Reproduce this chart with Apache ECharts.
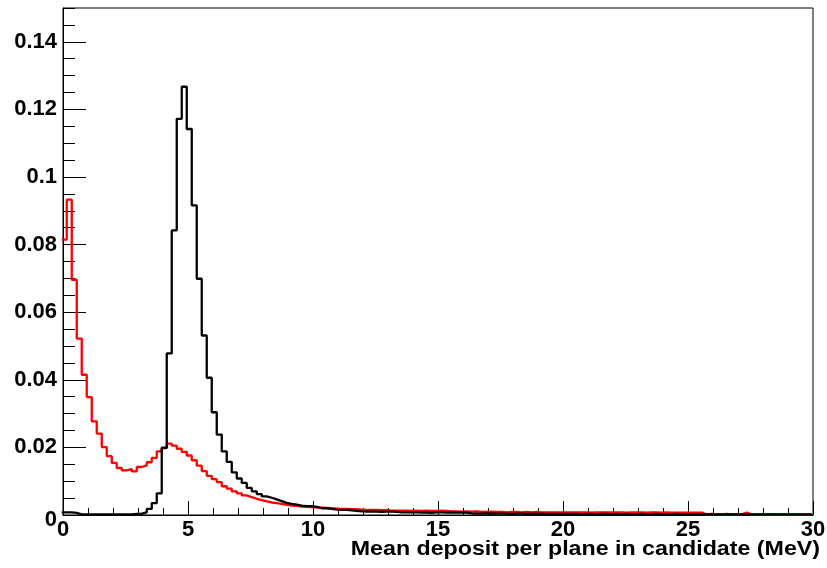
<!DOCTYPE html>
<html>
<head>
<meta charset="utf-8">
<script src="https://cdn.jsdelivr.net/npm/echarts@6/dist/echarts.min.js"></script>
<style>
  html, body { margin: 0; padding: 0; background: #ffffff; }
  #chart { width: 827px; height: 568px; }
</style>
</head>
<body>
<div id="chart"></div>
<script>
// Histogram binning: 150 bins of 0.2 MeV, first lower edge at -0.05 MeV
const BIN_WIDTH = 0.2;
const FIRST_EDGE = -0.05;

// Normalised bin contents, red sample
const redValues = [
  0.0815, 0.0933, 0.0696, 0.0522, 0.0415, 0.0349, 0.0277, 0.0241, 0.0201, 0.0174,
  0.0154, 0.0139, 0.0132, 0.0136, 0.0129, 0.0142, 0.0147, 0.0156, 0.0169, 0.0188,
  0.0198, 0.0211, 0.0205, 0.0196, 0.0187, 0.0176, 0.0162, 0.0146, 0.0130, 0.0116,
  0.0106, 0.0097, 0.0085, 0.0078, 0.0070, 0.0064, 0.0058, 0.0053, 0.0048, 0.0044,
  0.0040, 0.0037, 0.0035, 0.0033, 0.0030, 0.0028, 0.0027, 0.0025, 0.0024, 0.0023,
  0.0023, 0.0022, 0.0021, 0.0020, 0.0019, 0.0018, 0.0018, 0.0017, 0.0017, 0.0016,
  0.0015, 0.0015, 0.0015, 0.0014, 0.0014, 0.0013, 0.0013, 0.0013, 0.0013, 0.0012,
  0.0013, 0.0012, 0.0013, 0.0012, 0.0012, 0.0013, 0.0012, 0.0011, 0.0011, 0.0010,
  0.0011, 0.0010, 0.0011, 0.0009, 0.0009, 0.0010, 0.0009, 0.0009, 0.0008, 0.0009,
  0.0009, 0.0008, 0.0009, 0.0008, 0.0009, 0.0008, 0.0008, 0.0008, 0.0008, 0.0008,
  0.0008, 0.0008, 0.0008, 0.0008, 0.0008, 0.0007, 0.0008, 0.0008, 0.0008, 0.0008,
  0.0008, 0.0008, 0.0007, 0.0008, 0.0008, 0.0008, 0.0007, 0.0008, 0.0008, 0.0007,
  0.0008, 0.0007, 0.0007, 0.0007, 0.0007, 0.0007, 0.0007, 0.0007, 0.0002, 0.0003,
  0.0002, 0.0002, 0.0003, 0.0002, 0.0002, 0.0002, 0.0007, 0.0002, 0.0001, 0.0002,
  0.0001, 0.0002, 0.0001, 0.0001, 0.0002, 0.0001, 0.0001, 0.0001, 0.0001, 0.0001
];

// Normalised bin contents, black sample
const blackValues = [
  0.0008, 0.0008, 0.0006, 0.0002, 0.0002, 0.0002, 0.0002, 0.0002, 0.0002, 0.0002,
  0.0002, 0.0002, 0.0002, 0.0002, 0.0003, 0.0004, 0.0008, 0.0018, 0.0035, 0.0064,
  0.0199, 0.0478, 0.0842, 0.1172, 0.1267, 0.1142, 0.0916, 0.0699, 0.0531, 0.0406,
  0.0304, 0.0238, 0.0188, 0.0157, 0.0126, 0.0108, 0.0095, 0.0080, 0.0070, 0.0062,
  0.0055, 0.0051, 0.0046, 0.0041, 0.0036, 0.0033, 0.0031, 0.0028, 0.0026, 0.0026,
  0.0024, 0.0020, 0.0020, 0.0018, 0.0016, 0.0015, 0.0015, 0.0014, 0.0012, 0.0011,
  0.0010, 0.0010, 0.0010, 0.0009, 0.0010, 0.0010, 0.0009, 0.0008, 0.0008, 0.0008,
  0.0008, 0.0007, 0.0008, 0.0006, 0.0008, 0.0008, 0.0007, 0.0008, 0.0007, 0.0007,
  0.0007, 0.0005, 0.0004, 0.0004, 0.0005, 0.0004, 0.0004, 0.0004, 0.0004, 0.0003,
  0.0004, 0.0004, 0.0003, 0.0004, 0.0003, 0.0004, 0.0003, 0.0003, 0.0003, 0.0003,
  0.0003, 0.0003, 0.0003, 0.0002, 0.0003, 0.0003, 0.0002, 0.0003, 0.0003, 0.0002,
  0.0003, 0.0002, 0.0003, 0.0002, 0.0002, 0.0003, 0.0002, 0.0002, 0.0003, 0.0002,
  0.0002, 0.0002, 0.0003, 0.0002, 0.0002, 0.0002, 0.0002, 0.0002, 0.0002, 0.0002,
  0.0002, 0.0002, 0.0002, 0.0002, 0.0002, 0.0002, 0.0002, 0.0002, 0.0002, 0.0002,
  0.0002, 0.0002, 0.0002, 0.0002, 0.0002, 0.0002, 0.0002, 0.0002, 0.0002, 0.0002
];

// Axis ranges and tick spacing
const X_MIN = 0, X_MAX = 30, X_MAJOR = 5, X_MINOR_SPLIT = 5;
const Y_MIN = 0, Y_MAX = 0.15, Y_MAJOR = 0.02, Y_MINOR = 0.005;
const X_TITLE = 'Mean deposit per plane in candidate (MeV)';

const FONT = '"Liberation Sans", Arial, Helvetica, sans-serif';

// Turn bin contents into step points at each bin's lower edge,
// closing the last bin at its upper edge.
function histogramSteps(values) {
  const pts = values.map((v, i) => [FIRST_EDGE + i * BIN_WIDTH, v]);
  pts.push([FIRST_EDGE + values.length * BIN_WIDTH, values[values.length - 1]]);
  return pts;
}

const chart = echarts.init(document.getElementById('chart'), null, { renderer: 'canvas' });

const labelStyle = {
  color: '#000',
  fontFamily: FONT,
  fontWeight: 'bold',
  fontSize: 22
};

chart.setOption({
  animation: false,
  backgroundColor: '#ffffff',
  grid: {
    left: 63, right: 14, top: 8, bottom: 53,
    outerBoundsMode: 'none',
    containLabel: false,
    show: true, borderColor: '#000', borderWidth: 1, backgroundColor: 'transparent'
  },
  // axis title, right-aligned under the x axis, in a wide bold face
  graphic: [
    {
      type: 'text',
      x: 820,
      y: 539,
      scaleX: 1.16,
      style: {
        text: X_TITLE,
        font: 'bold 20px ' + FONT,
        fill: '#000',
        align: 'right',
        verticalAlign: 'top'
      }
    }
  ],
  xAxis: {
    type: 'value',
    min: X_MIN, max: X_MAX, interval: X_MAJOR,
    axisLine: { show: true, onZero: false, lineStyle: { color: '#000', width: 1 } },
    axisTick: { show: true, inside: true, length: 14, lineStyle: { color: '#000', width: 1 } },
    minorTick: { show: true, splitNumber: X_MINOR_SPLIT, length: 7, lineStyle: { color: '#000', width: 1 } },
    splitLine: { show: false },
    axisLabel: Object.assign({ margin: 4 }, labelStyle)
  },
  yAxis: [
    {
      type: 'value',
      min: Y_MIN, max: Y_MAX, interval: Y_MAJOR,
      axisLine: { show: true, lineStyle: { color: '#000', width: 1 } },
      axisTick: { show: true, inside: true, length: 23, lineStyle: { color: '#000', width: 1 } },
      splitLine: { show: false },
      axisLabel: Object.assign({
        margin: 6,
        showMaxLabel: false,
        formatter: v => (v === 0 ? '{z|0}' : String(+v.toFixed(3))),
        rich: { z: { padding: [10, 0, 0, 0], fontFamily: FONT, fontWeight: 'bold', fontSize: 22, color: '#000' } }
      }, labelStyle)
    },
    {
      // short ticks every 0.005
      type: 'value',
      position: 'left',
      min: Y_MIN, max: Y_MAX, interval: Y_MINOR,
      axisLine: { show: false },
      axisTick: { show: true, inside: true, length: 12, lineStyle: { color: '#000', width: 1 } },
      axisLabel: { show: false },
      splitLine: { show: false }
    }
  ],
  series: [
    {
      name: 'red',
      type: 'line',
      step: 'end',
      data: histogramSteps(redValues),
      symbol: 'none',
      clip: true,
      lineStyle: { color: '#ff0000', width: 2.3 },
      z: 2
    },
    {
      name: 'black',
      type: 'line',
      step: 'end',
      data: histogramSteps(blackValues),
      symbol: 'none',
      clip: true,
      lineStyle: { color: '#000000', width: 2.3 },
      z: 3
    }
  ]
});
</script>
</body>
</html>
